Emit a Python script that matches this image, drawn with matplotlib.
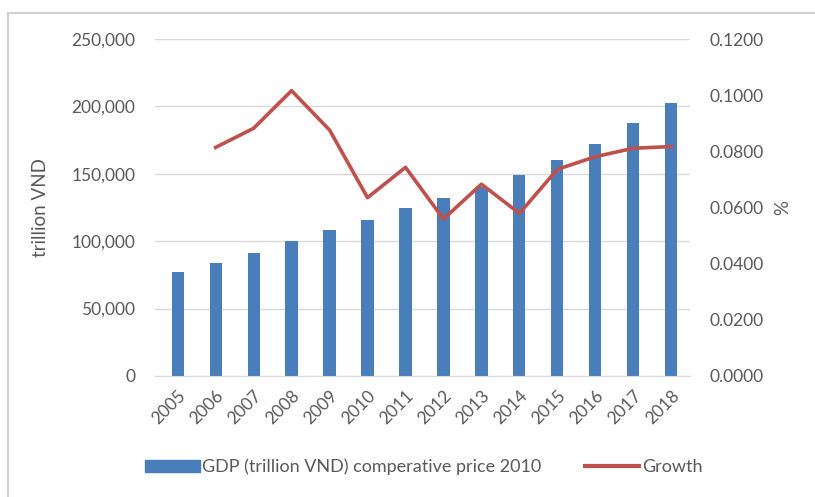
import numpy as np
import matplotlib.pyplot as plt
from matplotlib.lines import Line2D
from matplotlib.ticker import FuncFormatter

plt.rcParams['font.family'] = ['Lato', 'DejaVu Sans']

years = ['2005', '2006', '2007', '2008', '2009', '2010', '2011',
         '2012', '2013', '2014', '2015', '2016', '2017', '2018']
gdp = [77400, 84100, 91200, 99900, 108500, 115700, 124900,
       132000, 140400, 148900, 160200, 172300, 187400, 202300]
growth = [np.nan, 0.0814, 0.0882, 0.1016, 0.0876, 0.0635, 0.0743,
          0.0559, 0.0683, 0.0579, 0.0736, 0.0781, 0.0811, 0.0817]

txt = '#595959'
grid = '#d9d9d9'
fs = 12.5

fig = plt.figure(figsize=(8.15, 4.97), dpi=100)
ax = fig.add_axes([0.190, 0.2435, 0.657, 0.678])
ax2 = ax.twinx()

x = np.arange(len(years))
ax.bar(x, gdp, width=0.32, color='#4a7ebb', zorder=2,
       label='GDP (trillion VND) comperative price 2010')
ax2.plot(x, growth, color='#c0504d', lw=2.6, label='Growth')

ax.set_xlim(-0.6, 13.5)
ax.set_ylim(0, 250000)
ax.set_yticks(np.arange(0, 250001, 50000))
ax.yaxis.set_major_formatter(FuncFormatter(lambda v, p: f'{int(v):,}'))
ax2.set_ylim(0, 0.12)
ax2.set_yticks(np.arange(0, 0.12001, 0.02))
ax2.yaxis.set_major_formatter(FuncFormatter(lambda v, p: f'{v:.4f}'))

ax.grid(axis='y', color=grid, lw=1, zorder=0)
ax.set_axisbelow(True)
for a in (ax, ax2):
    for s in a.spines.values():
        s.set_visible(False)
    a.tick_params(length=0, labelsize=fs, colors=txt)
ax.spines['bottom'].set_visible(True)
ax.spines['bottom'].set_color(grid)

ax.set_xticks(x)
ax.set_xticklabels(years, rotation=45, ha='right', rotation_mode='anchor')
ax.tick_params(axis='x', pad=8)
ax.tick_params(axis='y', pad=14)
ax2.tick_params(axis='y', pad=14)

ax.set_ylabel('trillion VND', fontsize=13.5, color=txt, labelpad=16)
ax2.set_ylabel('%', fontsize=13.5, color=txt, rotation=270, labelpad=16)

handles = [plt.Rectangle((0, 0), 1, 1, color='#4a7ebb'),
           Line2D([0], [0], color='#c0504d', lw=3)]
labels = ['GDP (trillion VND) comperative price 2010', 'Growth']
fig.legend(handles, labels, loc='center', bbox_to_anchor=(0.520, 0.06),
           ncol=2, frameon=False, fontsize=13, labelcolor=txt,
           handlelength=3.0, handletextpad=0.15, columnspacing=2.4)

# frame lines (top and left only visible)
fig.add_artist(Line2D([8 / 815, 1], [1 - 13 / 497] * 2, color='#d0d0d0', lw=1.5))
fig.add_artist(Line2D([8 / 815] * 2, [0, 1 - 13 / 497], color='#d0d0d0', lw=1.5))

fig.savefig('out.png', dpi=100)
